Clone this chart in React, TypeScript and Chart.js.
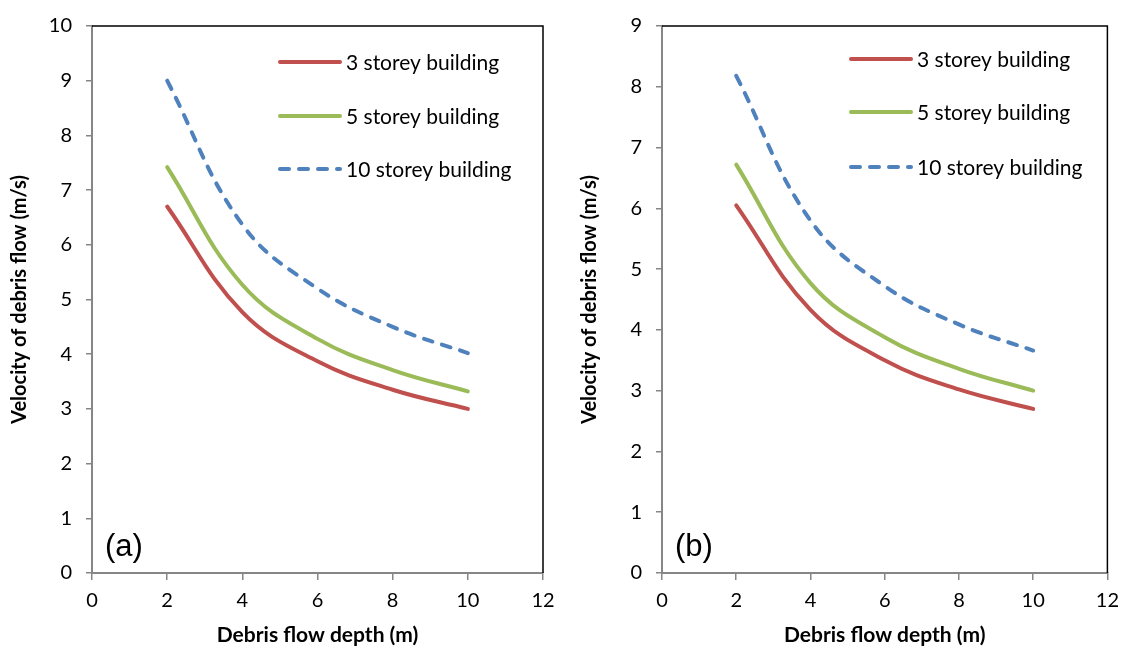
import React, { useEffect, useRef } from "react";
import { Chart, registerables } from "chart.js";
Chart.register(...registerables);

// ---- data ----
const depths = [2, 4, 6, 8, 10];
const xTicks = [0, 2, 4, 6, 8, 10, 12];
const seriesNames = ["3 storey building", "5 storey building", "10 storey building"];

const a3Storey = [6.7, 4.77, 3.87, 3.35, 3.0];
const a5Storey = [7.42, 5.27, 4.28, 3.71, 3.32];
const a10Storey = [9.0, 6.37, 5.2, 4.5, 4.02];

const b3Storey = [6.05, 4.33, 3.5, 3.02, 2.7];
const b5Storey = [6.72, 4.77, 3.88, 3.36, 3.0];
const b10Storey = [8.18, 5.8, 4.72, 4.09, 3.66];

const aYTicks = [0, 1, 2, 3, 4, 5, 6, 7, 8, 9, 10];
const bYTicks = [0, 1, 2, 3, 4, 5, 6, 7, 8, 9];

const xTitle = "Debris flow depth (m)";
const yTitle = "Velocity of debris flow (m/s)";

// ---- styles ----
const COLORS = ["#C0504D", "#9BBB59", "#4F81BD"];
const DASHES: number[][] = [[], [], [9, 10]];
const FONT = "Lato, 'Open Sans', sans-serif";
const AXIS_GRAY = "#868686";

type PanelCfg = {
  label: string;
  series: number[][];
  yTicks: number[];
  yAxisWidth: number;
  yTitlePad: number;
  padTop: number;
  padRight: number;
  legendX: number;
  legendY: number[];
  labelX: number;
  labelY: number;
};

function makeChart(canvas: HTMLCanvasElement, cfg: PanelCfg) {
  const overlay = {
    id: "overlay",
    afterDraw(chart: any) {
      const { ctx, chartArea } = chart;
      const { left, right, top, bottom } = chartArea;
      ctx.save();
      // top & right black border
      ctx.strokeStyle = "#000";
      ctx.lineWidth = 1.5;
      ctx.beginPath();
      ctx.moveTo(left, top);
      ctx.lineTo(right, top);
      ctx.lineTo(right, bottom);
      ctx.stroke();

      // legend
      ctx.lineCap = "round";
      ctx.lineWidth = 4;
      ctx.font = `21px ${FONT}`;
      ctx.textBaseline = "middle";
      ctx.textAlign = "left";
      seriesNames.forEach((name, i) => {
        const y = cfg.legendY[i];
        ctx.strokeStyle = COLORS[i];
        ctx.setLineDash(DASHES[i]);
        ctx.beginPath();
        ctx.moveTo(cfg.legendX, y);
        ctx.lineTo(cfg.legendX + 60, y);
        ctx.stroke();
        ctx.setLineDash([]);
        ctx.fillStyle = "#000";
        ctx.fillText(name, cfg.legendX + 66, y + 1);
      });

      // panel label
      ctx.font = `31px 'Liberation Sans', Arial, sans-serif`;
      ctx.fillStyle = "#000";
      ctx.fillText(cfg.label, cfg.labelX, cfg.labelY);
      ctx.restore();
    },
  };

  return new Chart(canvas, {
    type: "line",
    data: {
      datasets: cfg.series.map((vals, i) => ({
        label: seriesNames[i],
        data: depths.map((d, j) => ({ x: d, y: vals[j] })),
        borderColor: COLORS[i],
        borderWidth: 4,
        borderDash: DASHES[i],
        borderCapStyle: "round",
        pointRadius: 0,
        fill: false,
        tension: 0.4,
      })),
    },
    options: {
      responsive: false,
      animation: false,
      layout: { padding: { left: 0, right: cfg.padRight, top: cfg.padTop, bottom: 0 } },
      plugins: { legend: { display: false }, tooltip: { enabled: false } },
      scales: {
        x: {
          type: "linear",
          min: 0,
          max: 12,
          afterBuildTicks: (s: any) => {
            s.ticks = xTicks.map((v) => ({ value: v }));
          },
          afterFit: (s: any) => {
            s.height = 77;
          },
          grid: {
            drawOnChartArea: false,
            drawTicks: true,
            tickLength: 7,
            color: AXIS_GRAY,
            lineWidth: 1.5,
          },
          border: { display: true, color: AXIS_GRAY, width: 2 },
          ticks: {
            color: "#000",
            font: { family: FONT, size: 20 },
            padding: 9,
            maxRotation: 0,
          },
          title: {
            display: true,
            text: xTitle,
            color: "#000",
            font: { family: FONT, size: 21, weight: "bold" },
            padding: { top: 0, bottom: 2 },
          },
        },
        y: {
          type: "linear",
          min: 0,
          max: cfg.yTicks[cfg.yTicks.length - 1],
          afterBuildTicks: (s: any) => {
            s.ticks = cfg.yTicks.map((v) => ({ value: v }));
          },
          afterFit: (s: any) => {
            s.width = cfg.yAxisWidth;
          },
          grid: {
            drawOnChartArea: false,
            drawTicks: true,
            tickLength: 6,
            color: AXIS_GRAY,
            lineWidth: 1.5,
          },
          border: { display: true, color: AXIS_GRAY, width: 2 },
          ticks: {
            color: "#000",
            font: { family: FONT, size: 20 },
            padding: 14,
          },
          title: {
            display: true,
            text: yTitle,
            color: "#000",
            font: { family: FONT, size: 20, weight: "bold" },
            padding: { top: cfg.yTitlePad, bottom: 0 },
          },
        },
      },
    },
    plugins: [overlay],
  } as any);
}

const panelA: PanelCfg = {
  label: "(a)",
  series: [a3Storey, a5Storey, a10Storey],
  yTicks: aYTicks,
  yAxisWidth: 92,
  yTitlePad: 8,
  padTop: 18,
  padRight: 21,
  legendX: 280,
  legendY: [62, 116, 169],
  labelX: 105,
  labelY: 547,
};

const panelB: PanelCfg = {
  label: "(b)",
  series: [b3Storey, b5Storey, b10Storey],
  yTicks: bYTicks,
  yAxisWidth: 98,
  yTitlePad: 14,
  padTop: 14,
  padRight: 16,
  legendX: 851 - 564,
  legendY: [59, 112, 167],
  labelX: 675 - 564,
  labelY: 547,
};

function Panel({ cfg, left }: { cfg: PanelCfg; left: number }) {
  const ref = useRef<HTMLCanvasElement>(null);
  useEffect(() => {
    if (!ref.current) return;
    const chart = makeChart(ref.current, cfg);
    return () => chart.destroy();
  }, [cfg]);
  return (
    <div style={{ position: "absolute", left, top: 0, width: 564, height: 650 }}>
      <canvas ref={ref} width={564} height={650} style={{ display: "block" }} />
    </div>
  );
}

export default function App() {
  return (
    <div
      style={{
        position: "absolute",
        left: 0,
        top: 0,
        width: 1128,
        height: 650,
        background: "#fff",
        overflow: "hidden",
      }}
    >
      <Panel cfg={panelA} left={0} />
      <Panel cfg={panelB} left={564} />
    </div>
  );
}
